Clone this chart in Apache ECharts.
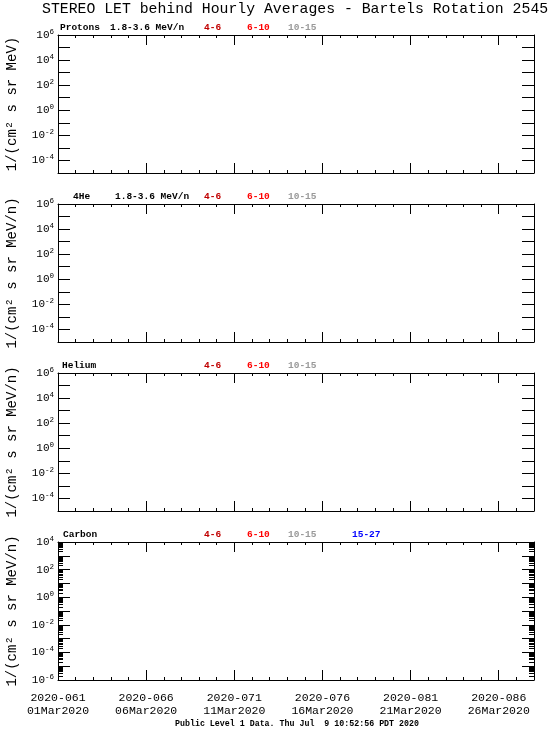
<!DOCTYPE html>
<html>
<head>
<meta charset="utf-8">
<script src="https://cdn.jsdelivr.net/npm/echarts@6/dist/echarts.min.js"></script>
<style>html,body{margin:0;padding:0;background:#fff}#c{width:550px;height:729px}</style>
</head>
<body>
<div id="c"></div>
<script>
// ---- data ----
const titleText = 'STEREO LET behind Hourly Averages - Bartels Rotation 2545';
const footerText = 'Public Level 1 Data. Thu Jul  9 10:52:56 PDT 2020';
const dayCount = 27;                       // days since 2020-061
const majorDays = [0, 5, 10, 15, 20, 25];
const doyLabels = ['2020-061', '2020-066', '2020-071', '2020-076', '2020-081', '2020-086'];
const dateLabels = ['01Mar2020', '06Mar2020', '11Mar2020', '16Mar2020', '21Mar2020', '26Mar2020'];
const panelNames = ['Protons', '4He', 'Helium', 'Carbon'];
const panelEnergy = ['1.8-3.6 MeV/n', '1.8-3.6 MeV/n', '', ''];
const yTitles = ['1/(cm\u00b2 s sr MeV)', '1/(cm\u00b2 s sr MeV/n)', '1/(cm\u00b2 s sr MeV/n)', '1/(cm\u00b2 s sr MeV/n)'];
const yMinExp = [-5, -5, -5, -6];
const yMaxExp = [6, 6, 6, 4];
const channelNames = ['4-6', '6-10', '10-15', '15-27'];
const channelColors = ['#c00000', '#ff0000', '#999999', '#0000ff'];
const panelChannels = [3, 3, 3, 4];
// series values (no data in this rotation)
const seriesValues = [
  [[], [], []],
  [[], [], []],
  [[], [], []],
  [[], [], [], []]
];

// ---- layout ----
const gridTops = [35, 204, 373, 542];
const gridH = 138, gridLeft = 58, gridRight = 16;
const nameX = [60, 73, 62, 63];
const energyX = [110, 115, 0, 0];
const chanX = [204, 247, 288, 352];
const mono = 'Liberation Mono';

const grids = [], xAxes = [], yAxes = [], series = [], graphics = [];
const axisLineStyle = { show: true, onZero: false, lineStyle: { color: '#000', width: 1 } };

function minors(a, b) { const r = []; for (let e = a; e < b; e++) for (let m = 2; m <= 9; m++) r.push(m * Math.pow(10, e)); return r; }

for (let i = 0; i < 4; i++) {
  grids.push({ left: gridLeft, right: gridRight, top: gridTops[i], height: gridH, show: false,
               containLabel: false, outerBoundsMode: 'none' });
  const last = i === 3;
  const xb = xAxes.length;
  const xBase = {
    gridIndex: i, type: 'value', min: 0, max: dayCount, interval: 5,
    axisLine: axisLineStyle, splitLine: { show: false },
    axisTick: { show: true, inside: true, length: 10, lineStyle: { color: '#000' } },
    minorTick: { show: true, splitNumber: 5, length: 3, lineStyle: { color: '#000' } }
  };
  xAxes.push(Object.assign({}, xBase, {
    position: 'bottom',
    axisLabel: {
      show: last, margin: 11, color: '#000', showMaxLabel: false,
      fontFamily: mono, fontSize: 11.5, lineHeight: 13,
      formatter: v => { const k = majorDays.indexOf(v); return k < 0 ? '' : doyLabels[k] + '\n' + dateLabels[k]; }
    }
  }));
  xAxes.push(Object.assign({}, xBase, { position: 'top', axisLabel: { show: false } }));

  const yBase = {
    gridIndex: i, type: 'log', logBase: 10, interval: 1,
    min: Math.pow(10, yMinExp[i]), max: Math.pow(10, yMaxExp[i]),
    axisLine: axisLineStyle, splitLine: { show: false },
    axisTick: { show: true, inside: true, length: 12, lineStyle: { color: '#000' } }
  };
  const yl = yAxes.length;
  yAxes.push(Object.assign({}, yBase, {
    position: 'left',
    name: yTitles[i], nameLocation: 'middle', nameRotate: 90, nameGap: 39,
    nameTextStyle: { fontFamily: mono, fontSize: 14, color: '#000' },
    axisLabel: {
      show: true, margin: 4, color: '#000',
      fontFamily: mono, fontSize: 11,
      formatter: v => { const e = Math.round(Math.log10(v)); return e % 2 === 0 ? '10{s|' + e + '}' : ''; },
      rich: { s: { fontFamily: mono, fontSize: 7.5, verticalAlign: 'top', padding: [0, 0, 6, 0], color: '#000' } }
    }
  }));
  yAxes.push(Object.assign({}, yBase, { position: 'right', axisLabel: { show: false } }));
  if (i === 3) {
    const mn = minors(yMinExp[i], yMaxExp[i]);
    ['left', 'right'].forEach(pos => yAxes.push({
      gridIndex: i, type: 'log', logBase: 10, position: pos,
      min: Math.pow(10, yMinExp[i]), max: Math.pow(10, yMaxExp[i]),
      axisLine: { show: false, onZero: false }, splitLine: { show: false }, axisLabel: { show: false },
      axisTick: { show: true, inside: true, length: 5, customValues: mn, lineStyle: { color: '#000' } }
    }));
  }

  for (let c = 0; c < panelChannels[i]; c++) {
    series.push({
      type: 'line', name: panelNames[i] + ' ' + channelNames[c],
      xAxisIndex: xb, yAxisIndex: yl, data: seriesValues[i][c],
      showSymbol: false, lineStyle: { color: channelColors[c], width: 1 }
    });
    graphics.push({
      type: 'text', left: chanX[c], top: gridTops[i] - 12,
      style: { text: channelNames[c], fill: channelColors[c], font: 'bold 9.5px "' + mono + '"' }
    });
  }
  graphics.push({
    type: 'text', left: nameX[i], top: gridTops[i] - 12,
    style: { text: panelNames[i], fill: '#000', font: 'bold 9.5px "' + mono + '"' }
  });
  if (panelEnergy[i]) graphics.push({
    type: 'text', left: energyX[i], top: gridTops[i] - 12,
    style: { text: panelEnergy[i], fill: '#000', font: 'bold 9.5px "' + mono + '"' }
  });
}

graphics.push({
  type: 'text', left: 42, top: 2,
  style: { text: titleText, fill: '#000', font: '14.8px "' + mono + '"' }
});
graphics.push({
  type: 'text', left: 175, top: 720,
  style: { text: footerText, fill: '#000', font: 'bold 8.3px "' + mono + '"' }
});

const chart = echarts.init(document.getElementById('c'), null, { renderer: 'canvas' });
chart.setOption({
  animation: false,
  backgroundColor: '#fff',
  grid: grids, xAxis: xAxes, yAxis: yAxes, series: series, graphic: graphics
});
</script>
</body>
</html>
